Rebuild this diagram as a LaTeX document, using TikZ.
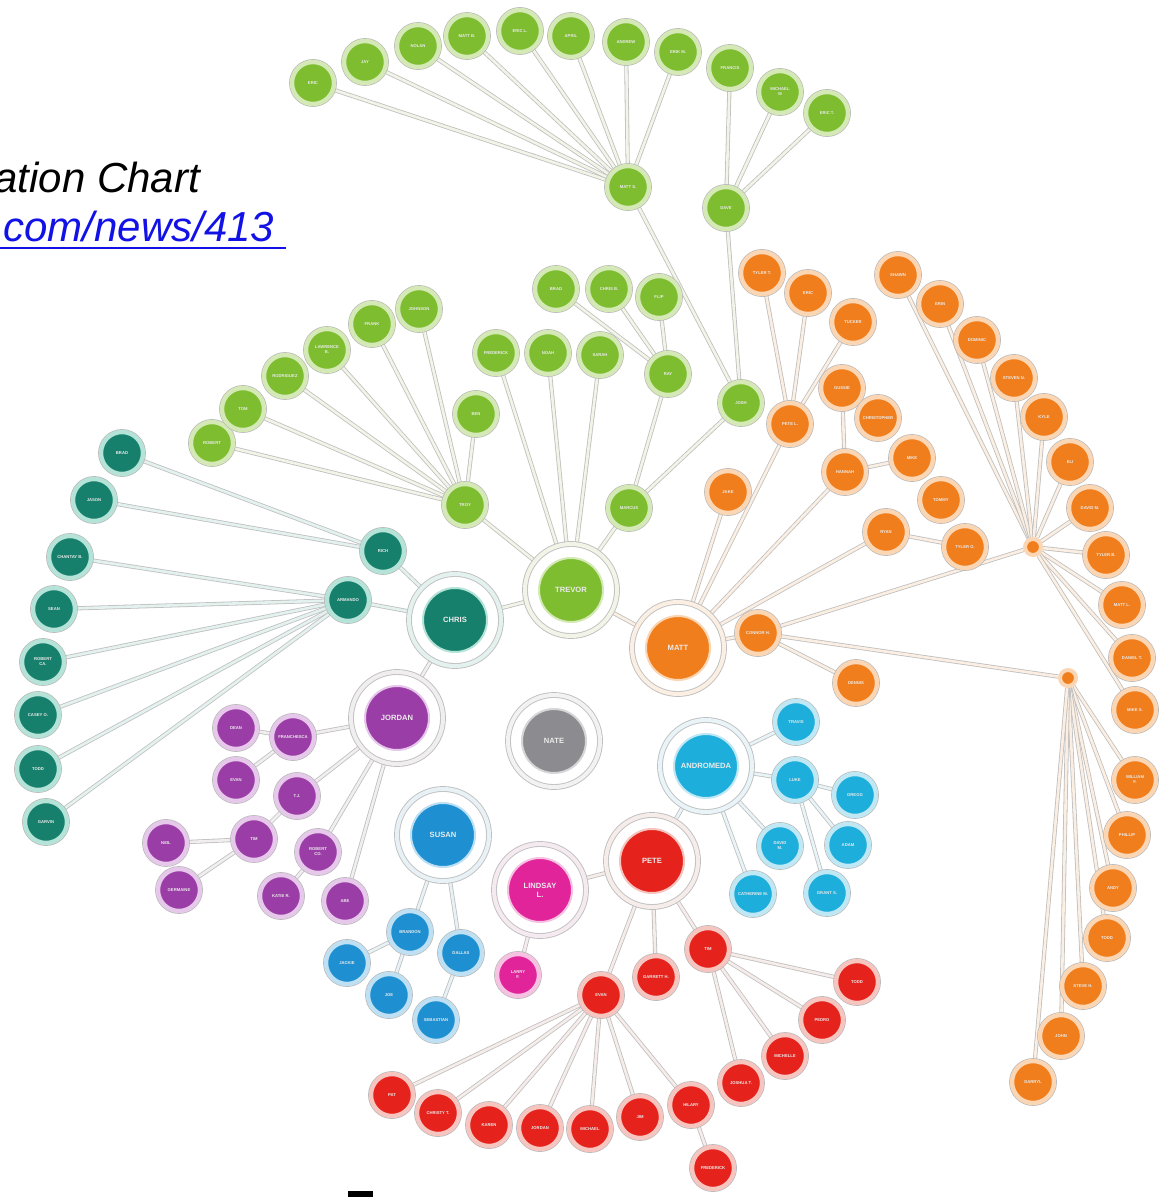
\documentclass[tikz,border=0pt]{standalone}
\usepackage{fontspec}
\setmainfont{Liberation Sans}
\pgfdeclarelayer{bg}
\pgfsetlayers{bg,main}
% cluster colours: fill (F), halo (H), connector core (L)
\definecolor{GF}{HTML}{7DBD2F}\definecolor{GH}{HTML}{D4E9B5}\definecolor{GL}{HTML}{F1F4E6}
\definecolor{OF}{HTML}{F07E1C}\definecolor{OH}{HTML}{FBD6B4}\definecolor{OL}{HTML}{FBEEE2}
\definecolor{TF}{HTML}{17806D}\definecolor{TH}{HTML}{B5E3D8}\definecolor{TL}{HTML}{E4F2EF}
\definecolor{PF}{HTML}{9B3DA6}\definecolor{PH}{HTML}{E5C8EA}\definecolor{PL}{HTML}{F1EEF0}
\definecolor{CF}{HTML}{1DAEDB}\definecolor{CH}{HTML}{BFE8F4}\definecolor{CL}{HTML}{E8F4F7}
\definecolor{BF}{HTML}{1E90D2}\definecolor{BH}{HTML}{BFE0F2}\definecolor{BL}{HTML}{E8F2F6}
\definecolor{MF}{HTML}{E2249B}\definecolor{MH}{HTML}{F5C3E1}\definecolor{ML}{HTML}{F6EAF1}
\definecolor{RF}{HTML}{E5231C}\definecolor{RH}{HTML}{F6C5C0}\definecolor{RL}{HTML}{F6ECEA}
\definecolor{NF}{HTML}{8C8C90}\definecolor{NH}{HTML}{D6D6D8}\definecolor{NL}{HTML}{F2F2F2}
\definecolor{urlblue}{HTML}{1212E6}
\tikzset{
  small/.style={circle, minimum size=21pt, inner sep=0pt, line width=2.2pt, align=center,
    font=\fontsize{2.1}{2.5}\selectfont\bfseries, text=white!92!black,
    preaction={draw=gray!55, line width=2.9pt}},
  sm/.style={small, fill=#1F, draw=#1H},
  bigdisk/.style={circle, minimum size=32pt, inner sep=0pt, line width=1pt, align=center,
    font=\fontsize{3.8}{4.4}\selectfont\bfseries, text=white!92!black, fill=#1F, draw=#1H},
  ring/.style={circle, minimum size=46pt, inner sep=0pt, draw=gray!50, line width=0.45pt,
    double=#1L, double distance=2pt},
  hub/.style={circle, minimum size=8pt, inner sep=0pt, fill=OF, draw=OH, line width=2pt},
  link/.style={draw=gray!50, line width=0.4pt, double=#1, double distance=1.3pt},
}
\newcommand\bignode[4]{% colour, name, position, label
  \node[ring=#1] (#2) at (#3) {};
  \node[bigdisk=#1] (#2D) at (#3) {#4};}
\begin{document}
\begin{tikzpicture}[x=0.5pt,y=-0.5pt]
\useasboundingbox (0,0) rectangle (1158,1197);

% heading
\node[anchor=base west, inner sep=0pt, font=\fontsize{21}{25}\selectfont\itshape] (head) at (-6,193) {ation Chart};
\node[anchor=base west, inner sep=0pt, font=\fontsize{21}{25}\selectfont\itshape, text=urlblue] (url) at (3,242) {com/news/413};
\draw[urlblue, line width=1.1pt] (0,248) -- (286,248);
\fill[black] (348,1191) rectangle (373,1197);

% ---------- central people ----------
\bignode{G}{trevor}{571,590}{TREVOR}
\bignode{T}{chris}{455,620}{CHRIS}
\bignode{O}{matt}{678,648}{MATT}
\bignode{P}{jordan}{397,718}{JORDAN}
\bignode{N}{nate}{554,741}{NATE}
\bignode{C}{andro}{706,766}{ANDROMEDA}
\bignode{B}{susan}{443,835}{SUSAN}
\bignode{M}{lind}{540,890}{LINDSAY\\L.}
\bignode{R}{pete}{652,861}{PETE}

% ---------- green ----------
\node[sm=G] (g1) at (313,83) {ERIC};
\node[sm=G] (g2) at (365,62) {JAY};
\node[sm=G] (g3) at (418,46) {NOLAN};
\node[sm=G] (g4) at (467,36) {MATT B.};
\node[sm=G] (g5) at (520,31) {ERIC L.};
\node[sm=G] (g6) at (571,36) {APRIL};
\node[sm=G] (g7) at (626,42) {ANDREW};
\node[sm=G] (g8) at (678,52) {ERIK M.};
\node[sm=G] (g9) at (730,68) {FRANCIS};
\node[sm=G] (g10) at (780,92) {MICHAEL\\M};
\node[sm=G] (g11) at (827,113) {ERIC T.};
\node[sm=G] (mattS) at (628,187) {MATT S.};
\node[sm=G] (dave) at (726,208) {DAVE};
\node[sm=G] (josh) at (741,403) {JOSH};
\node[sm=G] (marcus) at (629,508) {MARCUS};
\node[sm=G] (ray) at (668,374) {RAY};
\node[sm=G] (brad) at (556,289) {BRAD};
\node[sm=G] (chrisB) at (609,289) {CHRIS B.};
\node[sm=G] (flip) at (659,297) {FLIP};
\node[sm=G] (fred) at (496,353) {FREDERICK};
\node[sm=G] (noah) at (548,353) {NOAH};
\node[sm=G] (sarah) at (600,355) {SARAH};
\node[sm=G] (troy) at (465,505) {TROY};
\node[sm=G] (robert) at (212,443) {ROBERT};
\node[sm=G] (tom) at (243,409) {TOM};
\node[sm=G] (rod) at (285,376) {RODRIGUEZ};
\node[sm=G] (lawr) at (327,350) {LAWRENCE\\B.};
\node[sm=G] (frank) at (372,324) {FRANK};
\node[sm=G] (johnson) at (419,309) {JOHNSON};
\node[sm=G] (ben) at (476,414) {BEN};

% ---------- teal ----------
\node[sm=T] (rich) at (383,551) {RICH};
\node[sm=T] (armando) at (348,600) {ARMANDO};
\node[sm=T] (t1) at (122,453) {BRAD};
\node[sm=T] (t2) at (94,500) {JASON};
\node[sm=T] (t3) at (70,557) {CHANTAY B.};
\node[sm=T] (t4) at (54,609) {SEAN};
\node[sm=T] (t5) at (43,662) {ROBERT\\CA.};
\node[sm=T] (t6) at (38,715) {CASEY O.};
\node[sm=T] (t7) at (38,769) {TODD};
\node[sm=T] (t8) at (46,822) {GARVIN};

% ---------- purple ----------
\node[sm=P] (dean) at (236,728) {DEAN};
\node[sm=P] (fran) at (293,737) {FRANCHESCA};
\node[sm=P] (evanP) at (236,780) {EVAN};
\node[sm=P] (tj) at (297,796) {T.J.};
\node[sm=P] (neil) at (166,843) {NEIL};
\node[sm=P] (timP) at (254,839) {TIM};
\node[sm=P] (robco) at (318,852) {ROBERT\\CO.};
\node[sm=P] (katie) at (281,896) {KATIE R.};
\node[sm=P] (abe) at (345,901) {ABE};
\node[sm=P] (germ) at (179,890) {GERMAINE};

% ---------- cyan ----------
\node[sm=C] (travis) at (796,722) {TRAVIS};
\node[sm=C] (luke) at (795,780) {LUKE};
\node[sm=C] (gregg) at (855,795) {GREGG};
\node[sm=C] (davidC) at (780,846) {DAVID\\M.};
\node[sm=C] (adam) at (848,845) {ADAM};
\node[sm=C] (cath) at (753,894) {CATHERINE M.};
\node[sm=C] (grant) at (827,893) {GRANT S.};

% ---------- blue ----------
\node[sm=B] (bran) at (410,932) {BRANDON};
\node[sm=B] (dallas) at (461,953) {DALLAS};
\node[sm=B] (jackie) at (347,963) {JACKIE};
\node[sm=B] (joe) at (389,995) {JOE};
\node[sm=B] (seb) at (436,1020) {SEBASTIAN};

% ---------- magenta ----------
\node[sm=M] (larry) at (518,975) {LARRY\\F.};

% ---------- red ----------
\node[sm=R] (timR) at (708,949) {TIM};
\node[sm=R] (garrett) at (656,977) {GARRETT H.};
\node[sm=R] (evanR) at (601,995) {EVAN};
\node[sm=R] (toddR) at (857,982) {TODD};
\node[sm=R] (pedro) at (822,1020) {PEDRO};
\node[sm=R] (michelle) at (785,1056) {MICHELLE};
\node[sm=R] (joshT) at (741,1083) {JOSHUA T.};
\node[sm=R] (hilary) at (691,1105) {HILARY};
\node[sm=R] (fredk) at (713,1168) {FREDERICK};
\node[sm=R] (pat) at (392,1095) {PAT};
\node[sm=R] (christy) at (438,1113) {CHRISTY T.};
\node[sm=R] (karen) at (489,1125) {KAREN};
\node[sm=R] (jordR) at (540,1128) {JORDAN};
\node[sm=R] (michael) at (590,1129) {MICHAEL};
\node[sm=R] (jim) at (640,1117) {JIM};

% ---------- orange ----------
\node[sm=O] (connor) at (758,633) {CONNOR H.};
\node[sm=O] (dennis) at (856,683) {DENNIS};
\node[hub] (hubA) at (1033,547) {};
\node[hub] (hubB) at (1068,678) {};
\node[sm=O] (jake) at (728,492) {JAKE};
\node[sm=O] (peteL) at (790,424) {PETE L.};
\node[sm=O] (tylerT) at (762,273) {TYLER T.};
\node[sm=O] (ericO) at (808,293) {ERIC};
\node[sm=O] (tucker) at (853,322) {TUCKER};
\node[sm=O] (gussie) at (842,388) {GUSSIE};
\node[sm=O] (chrisO) at (878,418) {CHRISTOPHER};
\node[sm=O] (hannah) at (845,472) {HANNAH};
\node[sm=O] (mike) at (912,458) {MIKE};
\node[sm=O] (tommy) at (941,500) {TOMMY};
\node[sm=O] (ryan) at (886,532) {RYAN};
\node[sm=O] (tylerG) at (965,547) {TYLER G.};
\node[sm=O] (shawn) at (898,275) {SHAWN};
\node[sm=O] (erin) at (940,304) {ERIN};
\node[sm=O] (dom) at (977,340) {DOMINIC};
\node[sm=O] (steven) at (1014,378) {STEVEN N.};
\node[sm=O] (kyle) at (1044,417) {KYLE};
\node[sm=O] (eli) at (1070,462) {ELI};
\node[sm=O] (davidM) at (1090,508) {DAVID M.};
\node[sm=O] (tylerB) at (1106,555) {TYLER B.};
\node[sm=O] (mattL) at (1122,605) {MATT L.};
\node[sm=O] (danielT) at (1132,658) {DANIEL T.};
\node[sm=O] (mikeS) at (1135,710) {MIKE S.};
\node[sm=O] (william) at (1135,780) {WILLIAM\\F.};
\node[sm=O] (phillip) at (1127,835) {PHILLIP};
\node[sm=O] (andy) at (1113,888) {ANDY};
\node[sm=O] (toddO) at (1107,938) {TODD};
\node[sm=O] (steveH) at (1083,986) {STEVE H.};
\node[sm=O] (johnO) at (1061,1036) {JOHN};
\node[sm=O] (darryl) at (1033,1082) {DARRYL};

% ---------- connectors ----------
\begin{pgfonlayer}{bg}
  % between the central people
  \draw[link=GL] (trevor) -- (chris);
  \draw[link=OL] (trevor) -- (matt);
  \draw[link=PL] (chris) -- (jordan);
  \draw[link=CL] (andro) -- (pete);
  \draw[link=RL] (lind) -- (pete);
  % green
  \foreach \c in {g1,g2,g3,g4,g5,g6,g7,g8} \draw[link=GL] (\c) -- (mattS);
  \foreach \c in {g9,g10,g11} \draw[link=GL] (\c) -- (dave);
  \draw[link=GL] (mattS) -- (josh);
  \draw[link=GL] (dave) -- (josh);
  \draw[link=GL] (josh) -- (marcus);
  \foreach \c in {brad,chrisB,flip} \draw[link=GL] (\c) -- (ray);
  \draw[link=GL] (ray) -- (marcus);
  \draw[link=GL] (marcus) -- (trevor);
  \foreach \c in {fred,noah,sarah} \draw[link=GL] (\c) -- (trevor);
  \foreach \c in {robert,tom,rod,lawr,frank,johnson,ben} \draw[link=GL] (\c) -- (troy);
  \draw[link=GL] (troy) -- (trevor);
  % teal
  \foreach \c in {t1,t2} \draw[link=TL] (\c) -- (rich);
  \foreach \c in {t3,t4,t5,t6,t7,t8} \draw[link=TL] (\c) -- (armando);
  \draw[link=TL] (rich) -- (chris);
  \draw[link=TL] (armando) -- (chris);
  % purple
  \draw[link=PL] (jordan) -- (fran);
  \draw[link=PL] (fran) -- (dean);
  \draw[link=PL] (fran) -- (evanP);
  \draw[link=PL] (jordan) -- (tj);
  \draw[link=PL] (tj) -- (timP);
  \draw[link=PL] (timP) -- (neil);
  \draw[link=PL] (timP) -- (germ);
  \draw[link=PL] (jordan) -- (robco);
  \draw[link=PL] (robco) -- (katie);
  \draw[link=PL] (jordan) -- (abe);
  % cyan
  \draw[link=CL] (andro) -- (travis);
  \draw[link=CL] (andro) -- (luke);
  \draw[link=CL] (luke) -- (gregg);
  \draw[link=CL] (luke) -- (adam);
  \draw[link=CL] (luke) -- (grant);
  \draw[link=CL] (andro) -- (davidC);
  \draw[link=CL] (andro) -- (cath);
  % blue
  \draw[link=BL] (susan) -- (bran);
  \draw[link=BL] (susan) -- (dallas);
  \draw[link=BL] (bran) -- (jackie);
  \draw[link=BL] (bran) -- (joe);
  \draw[link=BL] (dallas) -- (seb);
  % magenta
  \draw[link=ML] (lind) -- (larry);
  % red
  \draw[link=RL] (pete) -- (evanR);
  \draw[link=RL] (pete) -- (garrett);
  \draw[link=RL] (pete) -- (timR);
  \foreach \c in {toddR,pedro,michelle,joshT} \draw[link=RL] (timR) -- (\c);
  \foreach \c in {pat,christy,karen,jordR,michael,jim,hilary} \draw[link=RL] (evanR) -- (\c);
  \draw[link=RL] (hilary) -- (fredk);
  % orange
  \foreach \c in {jake,peteL,hannah,ryan,connor} \draw[link=OL] (matt) -- (\c);
  \foreach \c in {tylerT,ericO,tucker} \draw[link=OL] (peteL) -- (\c);
  \draw[link=OL] (hannah) -- (gussie);
  \draw[link=OL] (hannah) -- (mike);
  \draw[link=OL] (ryan) -- (tylerG);
  \draw[link=OL] (connor) -- (hubA);
  \draw[link=OL] (connor) -- (hubB);
  \draw[link=OL] (connor) -- (dennis);
  \foreach \c in {shawn,erin,dom,steven,kyle,eli,davidM,tylerB,mattL,danielT,mikeS}
    \draw[link=OL] (hubA) -- (\c);
  \foreach \c in {william,phillip,andy,toddO,steveH,johnO,darryl}
    \draw[link=OL] (hubB) -- (\c);
\end{pgfonlayer}
\end{tikzpicture}
\end{document}
